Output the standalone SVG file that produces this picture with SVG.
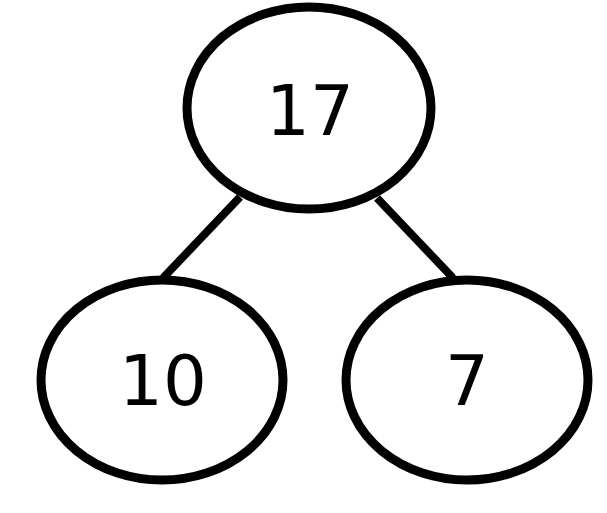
<svg xmlns="http://www.w3.org/2000/svg" width="607" height="513" viewBox="0 0 607 513">
<style>
.node{fill:#fff;stroke:#000;stroke-width:9}
.edge{stroke:#000;stroke-width:8;fill:none}
.lbl{font-family:"DejaVu Sans",sans-serif;font-size:69px;fill:#000;text-anchor:middle}
</style>
<rect width="607" height="513" fill="#fff"/>
<g id="connectors">
<line class="edge" x1="240" y1="197" x2="163" y2="278"/>
<line class="edge" x1="377" y1="198" x2="453" y2="278"/>
</g>
<g id="n17">
<ellipse class="node" cx="309" cy="108" rx="122" ry="101"/>
<text class="lbl" x="310" y="135">17</text>
</g>
<g id="n10">
<ellipse class="node" cx="162" cy="380" rx="121" ry="100"/>
<text class="lbl" x="163" y="405">10</text>
</g>
<g id="n7">
<ellipse class="node" cx="467" cy="380" rx="121" ry="100"/>
<text class="lbl" x="467" y="405">7</text>
</g>
</svg>
